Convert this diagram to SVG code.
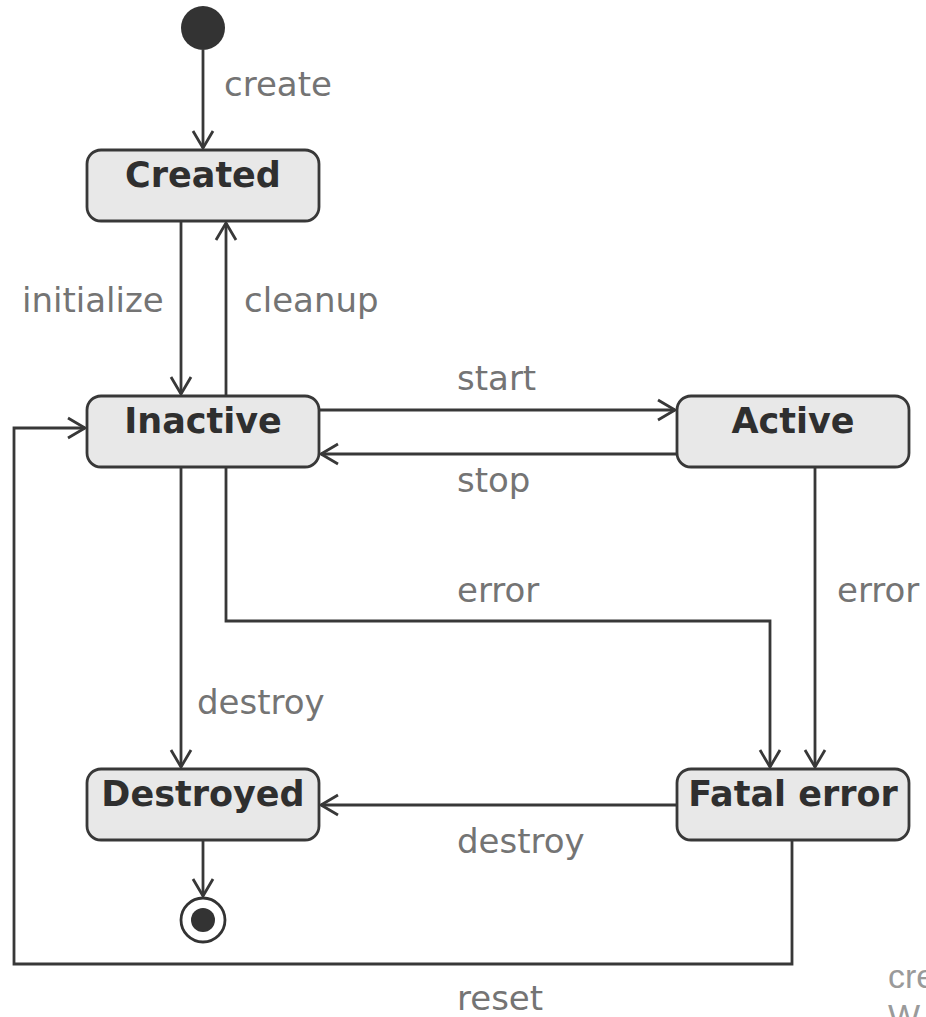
<svg xmlns="http://www.w3.org/2000/svg" width="926" height="1017" viewBox="0 0 926 1017">
  <style>
    .node rect { fill: #e8e8e8; stroke: #383838; stroke-width: 2.8; }
    .name { font-family: "DejaVu Sans", sans-serif; font-weight: bold; font-size: 35px; fill: #2f2f2f; text-anchor: middle; }
    .lbl { font-family: "DejaVu Sans", sans-serif; font-size: 34px; fill: #747474; }
    .edge { fill: none; stroke: #383838; stroke-width: 2.8; }
    .mark { font-family: "Liberation Sans", Arial, sans-serif; font-size: 34px; fill: #9a9a9a; }
  </style>
  <defs>
    <marker id="arrow" markerUnits="userSpaceOnUse" markerWidth="40" markerHeight="40" viewBox="-20 -20 40 40" refX="0" refY="0" orient="auto">
      <path d="M -17 -10 L 0 0 L -17 10" fill="none" stroke="#383838" stroke-width="2.8"/>
    </marker>
  </defs>

  <!-- connectors -->
  <g id="connectors">
    <path class="edge" d="M 203 50 L 203 148" marker-end="url(#arrow)"/>
    <path class="edge" d="M 181 221 L 181 394" marker-end="url(#arrow)"/>
    <path class="edge" d="M 226 396 L 226 223" marker-end="url(#arrow)"/>
    <path class="edge" d="M 319 410 L 675 410" marker-end="url(#arrow)"/>
    <path class="edge" d="M 677 454 L 321 454" marker-end="url(#arrow)"/>
    <path class="edge" d="M 226 467 L 226 621 L 770 621 L 770 767" marker-end="url(#arrow)"/>
    <path class="edge" d="M 815 467 L 815 767" marker-end="url(#arrow)"/>
    <path class="edge" d="M 181 467 L 181 767" marker-end="url(#arrow)"/>
    <path class="edge" d="M 677 805 L 321 805" marker-end="url(#arrow)"/>
    <path class="edge" d="M 792 840 L 792 964 L 14 964 L 14 428 L 85 428" marker-end="url(#arrow)"/>
    <path class="edge" d="M 203 840 L 203 896" marker-end="url(#arrow)"/>

    <text class="lbl" x="224" y="96">create</text>
    <text class="lbl" x="22" y="312">initialize</text>
    <text class="lbl" x="244" y="312">cleanup</text>
    <text class="lbl" x="457" y="390">start</text>
    <text class="lbl" x="457" y="492">stop</text>
    <text class="lbl" x="457" y="602">error</text>
    <text class="lbl" x="837" y="602">error</text>
    <text class="lbl" x="197" y="714">destroy</text>
    <text class="lbl" x="457" y="853">destroy</text>
    <text class="lbl" x="457" y="1010">reset</text>
  </g>

  <!-- initial pseudo-state -->
  <g id="start">
    <circle cx="203" cy="28" r="22" fill="#333333"/>
  </g>

  <g id="created" class="node">
    <rect x="87" y="150" width="232" height="71" rx="14"/>
    <text class="name" x="203" y="187">Created</text>
  </g>

  <g id="inactive" class="node">
    <rect x="87" y="396" width="232" height="71" rx="14"/>
    <text class="name" x="203" y="433">Inactive</text>
  </g>

  <g id="active" class="node">
    <rect x="677" y="396" width="232" height="71" rx="14"/>
    <text class="name" x="793" y="433">Active</text>
  </g>

  <g id="destroyed" class="node">
    <rect x="87" y="769" width="232" height="71" rx="14"/>
    <text class="name" x="203" y="806">Destroyed</text>
  </g>

  <g id="fatal-error" class="node">
    <rect x="677" y="769" width="232" height="71" rx="14"/>
    <text class="name" x="793" y="806">Fatal error</text>
  </g>

  <!-- final state -->
  <g id="end">
    <circle cx="203" cy="920" r="22" fill="#ffffff" stroke="#333333" stroke-width="2.8"/>
    <circle cx="203" cy="920" r="12" fill="#333333"/>
  </g>

  <text class="mark" x="888" y="988">cre</text>
  <text class="mark" x="888" y="1028">W</text>
</svg>
